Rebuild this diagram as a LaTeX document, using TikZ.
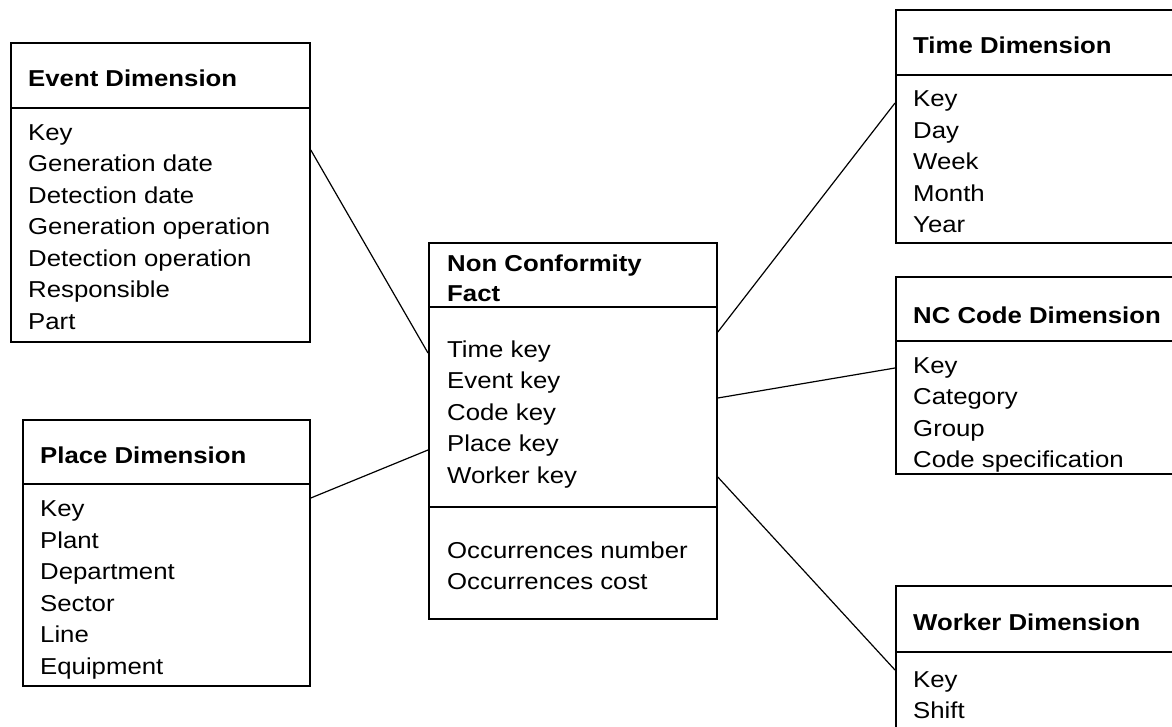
\documentclass[tikz,border=0pt]{standalone}
\usepackage{fontspec}
\setmainfont{Liberation Sans}[FakeStretch=1.12]
\usetikzlibrary{calc}

\tikzset{
  table/.style={draw, line width=1.8pt, rectangle, inner sep=0pt, anchor=north west},
  rule/.style={line width=1.8pt},
  link/.style={line width=1.2pt},
  head/.style={anchor=base west, inner sep=0pt, font=\fontsize{23}{30}\selectfont\bfseries},
  item/.style={anchor=base west, inner sep=0pt, font=\fontsize{23}{31.5}\selectfont},
}

\begin{document}
\begin{tikzpicture}[x=1pt, y=-1pt]
\useasboundingbox[fill=white] (0,0) rectangle (1172,726);
\clip (0,0) rectangle (1172,726);

% ---- tables ----
\node[table, minimum width=299pt, minimum height=299pt] (event)  at (10,42)  {};
\node[table, minimum width=287pt, minimum height=266pt] (place)  at (22,419) {};
\node[table, minimum width=288pt, minimum height=376pt] (fact)   at (428,242) {};
\node[table, minimum width=300pt, minimum height=233pt] (time)   at (895,9)  {};
\node[table, minimum width=300pt, minimum height=197pt] (nccode) at (895,276) {};
\node[table, minimum width=300pt, minimum height=200pt] (worker) at (895,585) {};

% ---- header rules ----
\draw[rule] ($(event.north west)+(0,66)$)  -- ($(event.north east)+(0,66)$);
\draw[rule] ($(place.north west)+(0,65)$)  -- ($(place.north east)+(0,65)$);
\draw[rule] ($(fact.north west)+(0,65)$)   -- ($(fact.north east)+(0,65)$);
\draw[rule] ($(fact.north west)+(0,265)$)  -- ($(fact.north east)+(0,265)$);
\draw[rule] ($(time.north west)+(0,66)$)   -- ($(time.north east)+(0,66)$);
\draw[rule] ($(nccode.north west)+(0,65)$) -- ($(nccode.north east)+(0,65)$);
\draw[rule] ($(worker.north west)+(0,67)$) -- ($(worker.north east)+(0,67)$);

% ---- titles ----
\node[head] (event-title)  at ($(event.north west)+(18,44.5)$) {Event Dimension};
\node[head] (place-title)  at ($(place.north west)+(18,44)$)   {Place Dimension};
\node[head] (fact-title-a) at ($(fact.north west)+(19,29)$)    {Non Conformity};
\node[head] (fact-title-b) at ($(fact.north west)+(19,59.5)$)  {Fact};
\node[head] (time-title)   at ($(time.north west)+(18,44)$)    {Time Dimension};
\node[head] (nccode-title) at ($(nccode.north west)+(18,47)$)  {NC Code Dimension};
\node[head] (worker-title) at ($(worker.north west)+(18,45)$)  {Worker Dimension};

% ---- attributes ----
\foreach \t [count=\i from 0] in {Key, Generation date, Detection date, Generation operation, Detection operation, Responsible, Part}
  \node[item] (event-\i) at ($(event.north west)+(18,98+31.5*\i)$) {\t};
\foreach \t [count=\i from 0] in {Key, Plant, Department, Sector, Line, Equipment}
  \node[item] (place-\i) at ($(place.north west)+(18,97.5+31.5*\i)$) {\t};
\foreach \t [count=\i from 0] in {Time key, Event key, Code key, Place key, Worker key}
  \node[item] (fact-\i) at ($(fact.north west)+(19,115+31.5*\i)$) {\t};
\foreach \t [count=\i from 0] in {Occurrences number, Occurrences cost}
  \node[item] (measure-\i) at ($(fact.north west)+(19,316+31.5*\i)$) {\t};
\foreach \t [count=\i from 0] in {Key, Day, Week, Month, Year}
  \node[item] (time-\i) at ($(time.north west)+(18,97.5+31.5*\i)$) {\t};
\foreach \t [count=\i from 0] in {Key, Category, Group, Code specification}
  \node[item] (nccode-\i) at ($(nccode.north west)+(18,97+31.5*\i)$) {\t};
\foreach \t [count=\i from 0] in {Key, Shift}
  \node[item] (worker-\i) at ($(worker.north west)+(18,102+31.5*\i)$) {\t};

% ---- links between fact and dimensions ----
\draw[link] ($(event.north east)+(0,108)$)  -- ($(fact.north west)+(0,111)$);
\draw[link] ($(place.north east)+(0,79)$)   -- ($(fact.north west)+(0,208)$);
\draw[link] ($(fact.north east)+(0,90)$)    -- ($(time.north west)+(0,94)$);
\draw[link] ($(fact.north east)+(0,156)$)   -- ($(nccode.north west)+(0,92)$);
\draw[link] ($(fact.north east)+(0,235)$)   -- ($(worker.north west)+(0,85)$);
\end{tikzpicture}
\end{document}
